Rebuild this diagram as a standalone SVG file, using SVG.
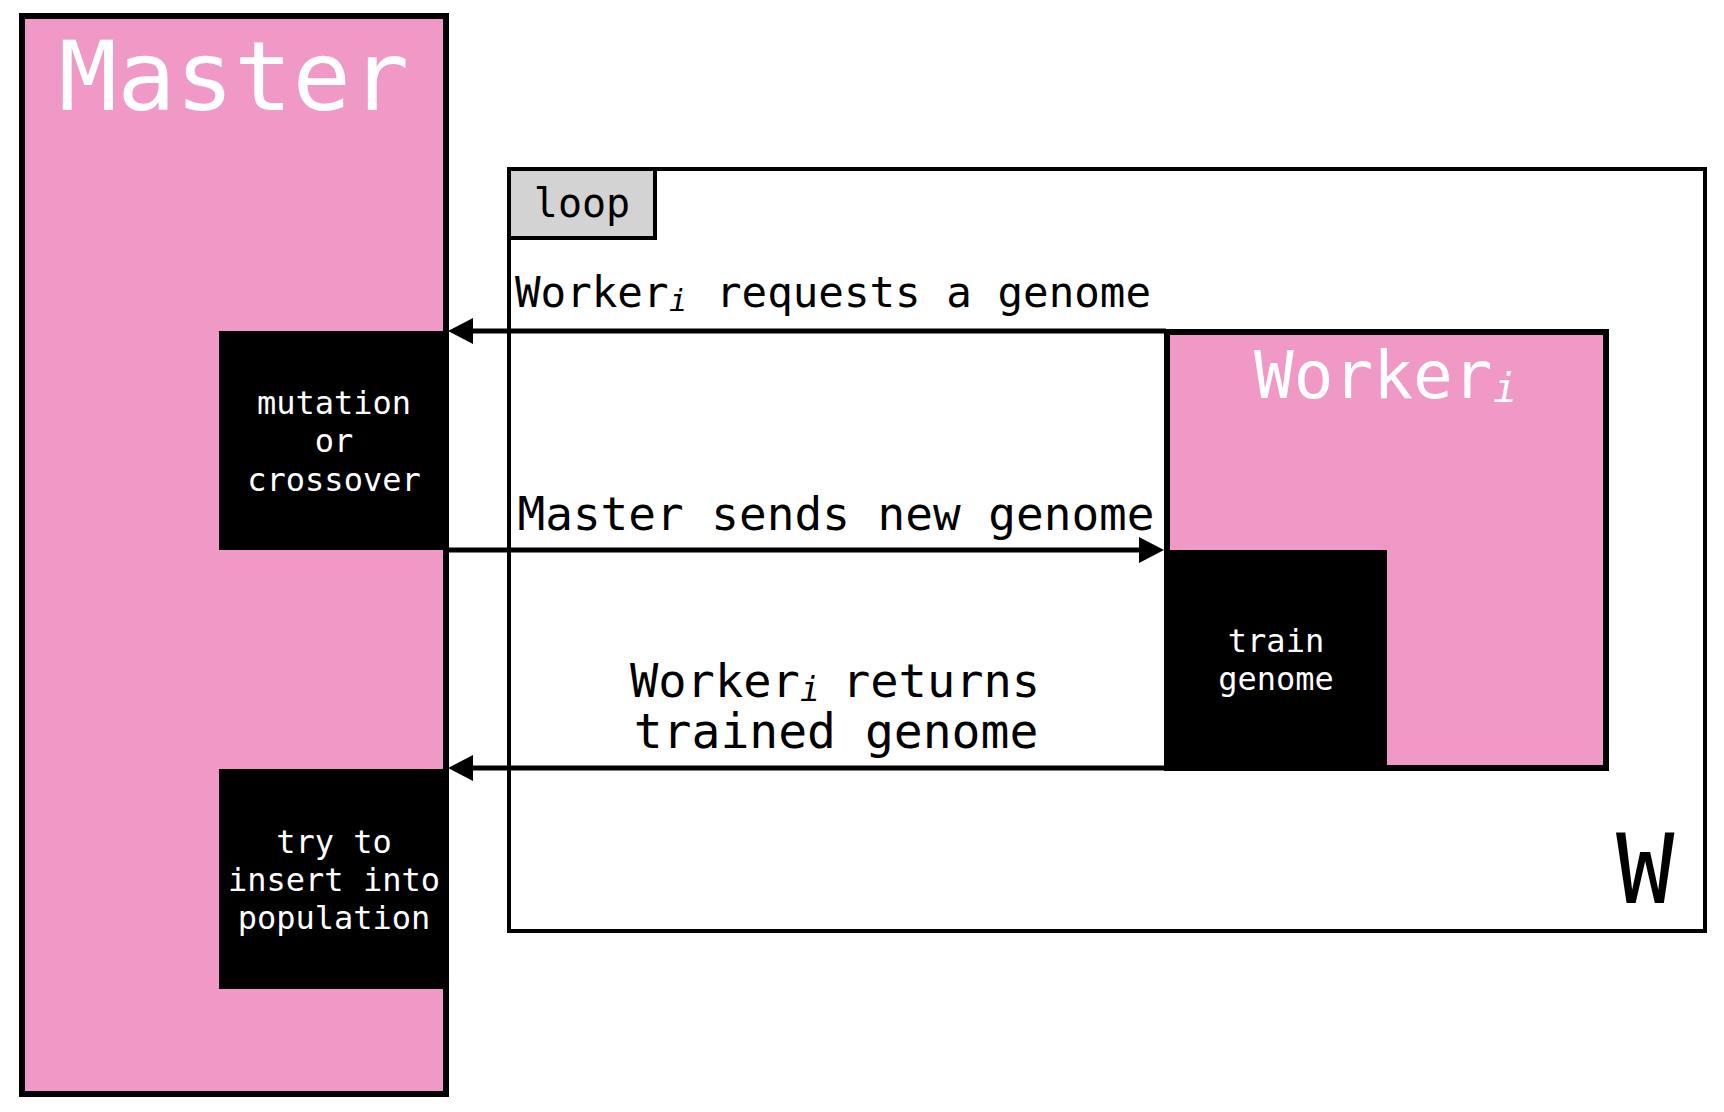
<svg xmlns="http://www.w3.org/2000/svg" width="1724" height="1112" viewBox="0 0 1724 1112">
  <defs>
    <style>
      .mono { font-family: "DejaVu Sans Mono", "Liberation Mono", monospace; }
      .lane { fill: #f199c6; stroke: #000; stroke-width: 6; }
      .act { fill: #000; }
      .acttxt { fill: #fff; font-size: 32px; text-anchor: middle; }
      .title { fill: #fff; }
      .lbl { fill: #000; }
      .conn { stroke: #000; stroke-width: 5; fill: none; marker-end: url(#arrow); }
      .frame { fill: none; stroke: #000; stroke-width: 4; }
    </style>
    <marker id="arrow" markerUnits="userSpaceOnUse" markerWidth="25" markerHeight="26" refX="7" refY="13" orient="auto">
      <path d="M0,0 L25,13 L0,26 z" fill="#000"/>
    </marker>
  </defs>

  <rect width="1724" height="1112" fill="#fff"/>

  <g id="master">
    <rect class="lane" x="22" y="16" width="424" height="1078"/>
    <text class="mono title" x="234" y="110" font-size="97" text-anchor="middle">Master</text>
  </g>

  <g id="mutation">
    <rect class="act" x="219" y="331" width="230" height="219"/>
    <text class="mono acttxt" x="334" y="414">mutation</text>
    <text class="mono acttxt" x="334" y="452">or</text>
    <text class="mono acttxt" x="334" y="491">crossover</text>
  </g>

  <g id="insert">
    <rect class="act" x="219" y="769" width="230" height="220"/>
    <text class="mono acttxt" x="334" y="853">try to</text>
    <text class="mono acttxt" x="334" y="891">insert into</text>
    <text class="mono acttxt" x="334" y="929">population</text>
  </g>

  <g id="loop">
    <rect class="frame" x="509" y="169" width="1196" height="762"/>
    <rect x="509" y="169" width="146" height="69" fill="#d3d3d3" stroke="#000" stroke-width="4"/>
    <text class="mono lbl" x="582" y="217" font-size="40" text-anchor="middle">loop</text>
    <text class="mono lbl" x="1616" y="903" font-size="97">W</text>
  </g>

  <g id="worker">
    <rect class="lane" x="1167" y="332" width="439" height="436"/>
    <text class="mono title" x="1254" y="398" font-size="66">Worker<tspan x="1493" y="402" font-size="40" font-style="italic">i</tspan></text>
  </g>

  <g id="train">
    <rect class="act" x="1164" y="550" width="223" height="221"/>
    <text class="mono acttxt" x="1276" y="652">train</text>
    <text class="mono acttxt" x="1276" y="690">genome</text>
  </g>

  <g id="connectors">
    <line class="conn" x1="1166" y1="331" x2="466" y2="331"/>
    <line class="conn" x1="446" y1="550" x2="1146" y2="550"/>
    <line class="conn" x1="1166" y1="768" x2="466" y2="768"/>
    <text class="mono lbl" x="515" y="307" font-size="42.5">Worker<tspan x="669" y="311" font-size="30" font-style="italic">i</tspan><tspan x="716" y="307">requests a genome</tspan></text>
    <text class="mono lbl" x="836" y="530" font-size="46" text-anchor="middle">Master sends new genome</text>
    <text class="mono lbl" font-size="47"><tspan x="630" y="697">Worker</tspan><tspan x="800" y="701" font-size="33" font-style="italic">i</tspan><tspan x="842" y="697">returns</tspan><tspan x="836" y="748" font-size="48" text-anchor="middle">trained genome</tspan></text>
  </g>
</svg>
